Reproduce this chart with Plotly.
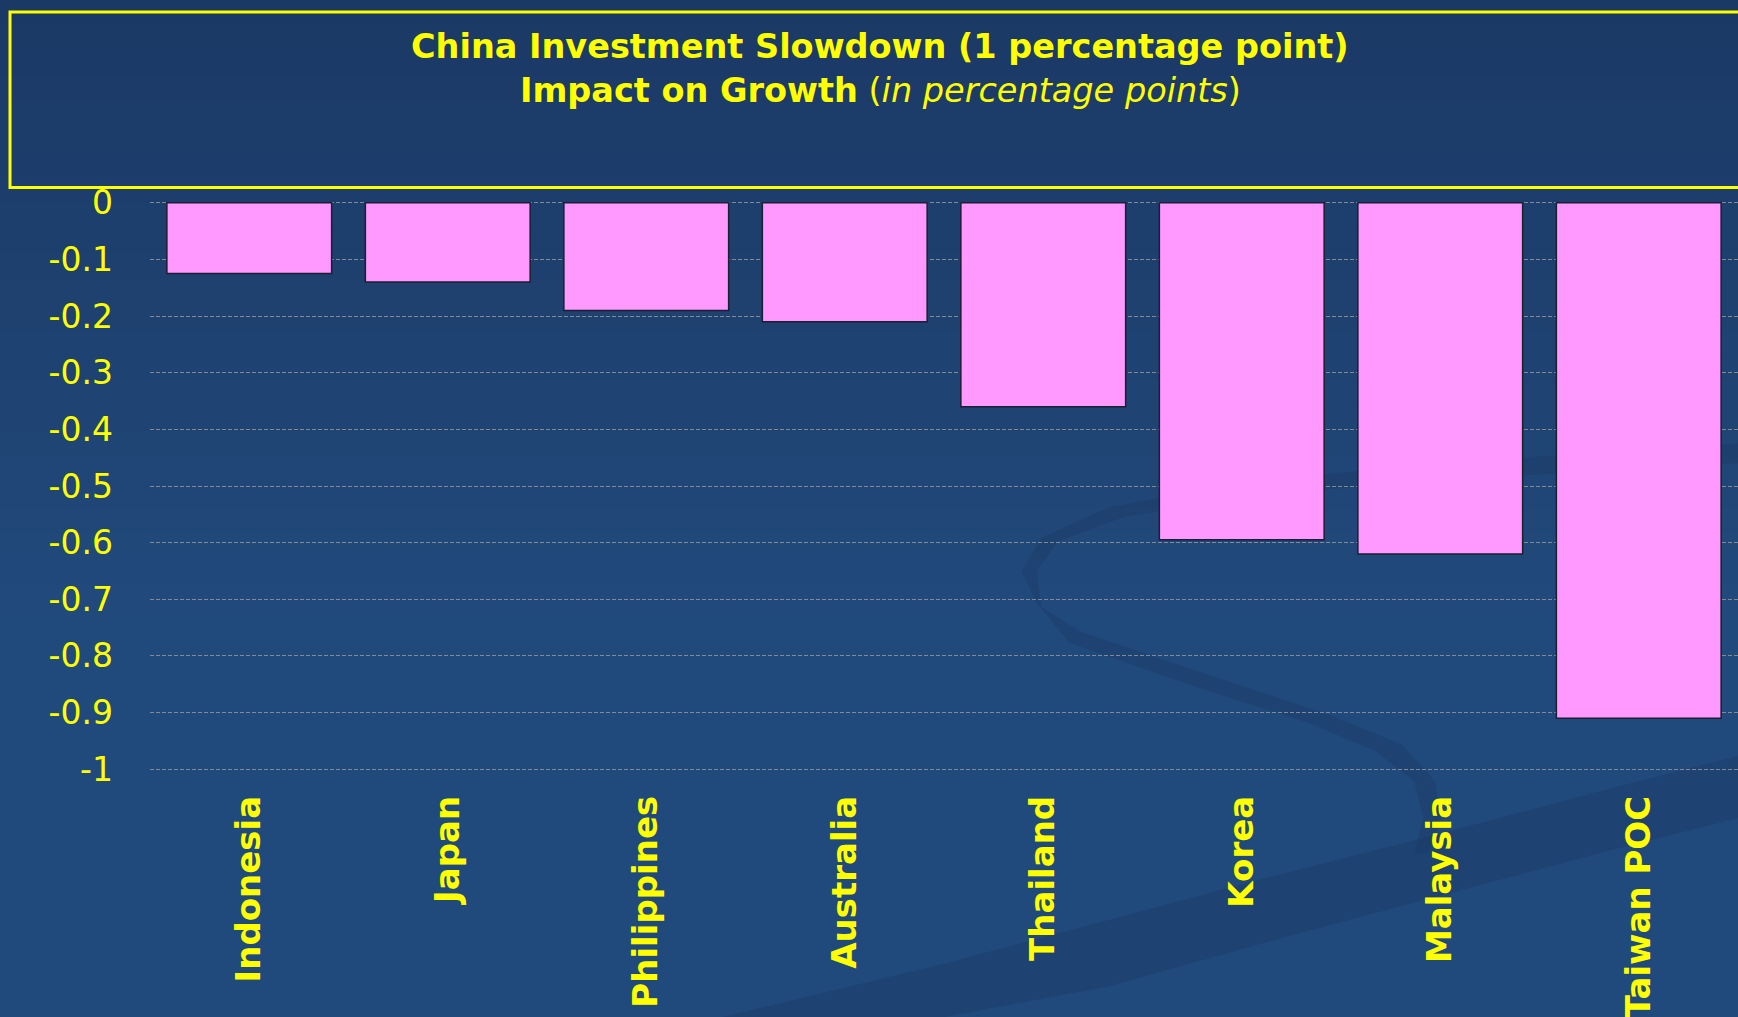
import plotly.graph_objects as go

# Impact of a 1 percentage point slowdown in Chinese investment on growth
countries = ["Indonesia", "Japan", "Philippines", "Australia",
             "Thailand", "Korea", "Malaysia", "Taiwan POC"]
impact = [-0.125, -0.14, -0.19, -0.21, -0.36, -0.595, -0.62, -0.91]

y_ticks = [0, -0.1, -0.2, -0.3, -0.4, -0.5, -0.6, -0.7, -0.8, -0.9, -1]
y_labels = ["0", "-0.1", "-0.2", "-0.3", "-0.4", "-0.5",
            "-0.6", "-0.7", "-0.8", "-0.9", "-1"]

W, H = 1738, 1017
M_L, M_R, M_T, M_B = 150, 0, 200, 245
YELLOW = "#FFFF00"

fig = go.Figure()
fig.add_trace(go.Bar(
    x=countries, y=impact, width=0.83,
    marker=dict(color="#FF99FF", line=dict(color="#1a1f33", width=1.5)),
))

pw, ph = W - M_L - M_R, H - M_T - M_B


def px(x, y):
    """Pixel position on the page -> paper coordinates."""
    return (x - M_L) / pw, (H - M_B - y) / ph


# vertical background gradient built from thin horizontal bands
shapes = []
top_c = (0x1b, 0x39, 0x65)
bot_c = (0x21, 0x4a, 0x7c)
n_bands = 40
for i in range(n_bands):
    t = i / (n_bands - 1)
    c = tuple(round(top_c[k] + (bot_c[k] - top_c[k]) * min(1.0, t * 1.6)) for k in range(3))
    shapes.append(dict(
        type="rect", xref="paper", yref="paper", layer="below",
        x0=-0.2, x1=1.1,
        y0=(H - M_B - (i + 1) * H / n_bands) / ph,
        y1=(H - M_B - i * H / n_bands) / ph + 0.002,
        line=dict(width=0), fillcolor="rgb(%d,%d,%d)" % c,
    ))

# subtle decorative swooshes (outline points in page pixels)
s = 1738 / 1568
swoosh1 = [(1568, 400), (1300, 418), (1120, 435), (1000, 458), (940, 485),
           (922, 515), (935, 545), (975, 570), (1100, 612), (1200, 645),
           (1265, 672), (1295, 705), (1300, 740), (1288, 770),
           (1276, 770), (1284, 738), (1276, 705), (1240, 677), (1180, 652),
           (1080, 620), (965, 580), (940, 550), (935, 515), (955, 488),
           (1015, 466), (1130, 447), (1300, 433), (1568, 418)]
swoosh2 = [(650, 918), (850, 870), (1000, 830), (1150, 790), (1300, 752),
           (1450, 712), (1568, 682),
           (1568, 738), (1450, 768), (1300, 808), (1150, 848), (1000, 890),
           (850, 918)]
for pts in (swoosh1, swoosh2):
    p = [px(x * s, y * s) for x, y in pts]
    d = " ".join(("M" if i == 0 else "L") + " %.4f %.4f" % q
                 for i, q in enumerate(p)) + " Z"
    shapes.append(dict(type="path", xref="paper", yref="paper", path=d,
                       layer="below", fillcolor="rgba(22,48,88,0.25)",
                       line=dict(width=0)))

# yellow title frame
bx0, by0 = px(10, 12)
bx1, by1 = px(1745, 187.5)
shapes.append(dict(type="rect", xref="paper", yref="paper",
                   x0=bx0, x1=bx1, y0=by1, y1=by0,
                   line=dict(color=YELLOW, width=3), fillcolor="rgba(0,0,0,0)"))

tx, ty1 = px(880, 46.5)
_, ty2 = px(881, 91)
title_font = dict(family="DejaVu Sans", size=33.5, color=YELLOW)
annotations = [
    dict(xref="paper", yref="paper", x=tx, y=ty1, showarrow=False,
         xanchor="center", yanchor="middle",
         text="<b>China Investment Slowdown (1 percentage point)</b>",
         font=title_font),
    dict(xref="paper", yref="paper", x=tx, y=ty2, showarrow=False,
         xanchor="center", yanchor="middle",
         text="<b>Impact on Growth</b> (<i>in percentage points</i>)",
         font=title_font),
]

fig.update_layout(
    width=W, height=H,
    margin=dict(l=M_L, r=M_R, t=M_T, b=M_B, pad=0),
    paper_bgcolor="#214a7c", plot_bgcolor="rgba(0,0,0,0)",
    showlegend=False, bargap=0.17,
    shapes=shapes, annotations=annotations,
    xaxis=dict(
        showgrid=False, zeroline=False, showline=False, ticks="",
        tickangle=-90, ticklabelstandoff=16,
        tickfont=dict(family="DejaVu Sans", size=34, color=YELLOW, weight="bold"),
    ),
    yaxis=dict(
        range=[-1.005, 0.005], tickvals=y_ticks, ticktext=y_labels,
        showgrid=True, gridcolor="#838a96", griddash="4px,2px", gridwidth=1,
        zeroline=False, showline=False, ticks="",
        ticklabelstandoff=36,
        tickfont=dict(family="DejaVu Sans", size=33, color=YELLOW),
    ),
)

fig.write_html("out.html")
